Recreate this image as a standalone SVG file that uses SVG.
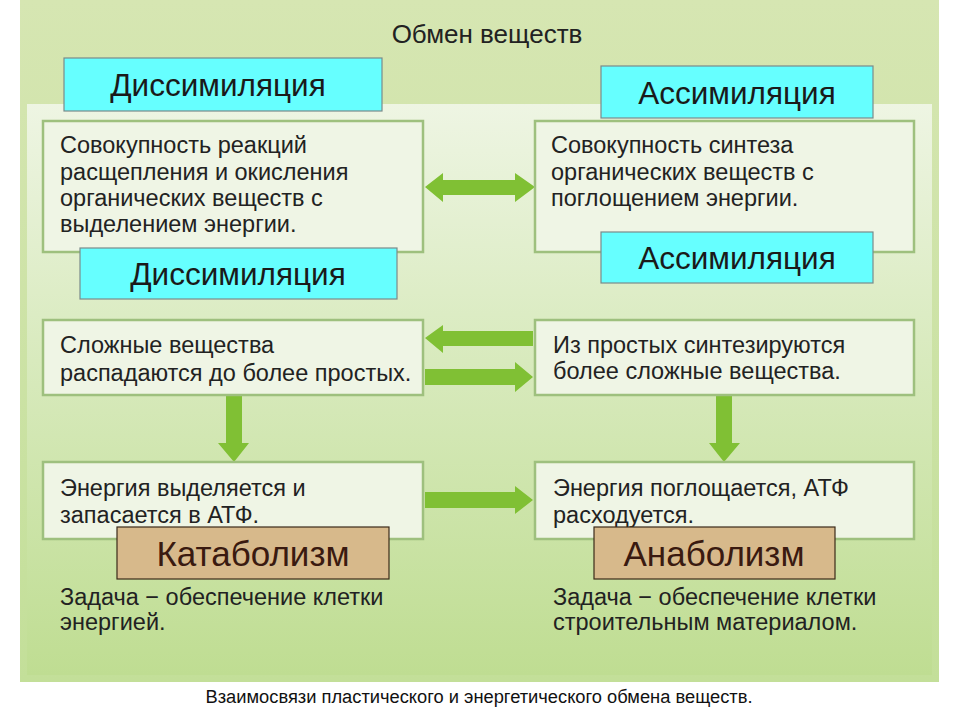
<svg xmlns="http://www.w3.org/2000/svg" width="960" height="720" viewBox="0 0 960 720">
<defs>
<linearGradient id="outerG" x1="0" y1="0" x2="0" y2="1">
<stop offset="0" stop-color="#d6e6b2"/>
<stop offset="1" stop-color="#c3df99"/>
</linearGradient>
<linearGradient id="innerG" x1="0" y1="0" x2="0" y2="1">
<stop offset="0" stop-color="#eef5e3"/>
<stop offset="0.45" stop-color="#d8eabd"/>
<stop offset="1" stop-color="#bfdd92"/>
</linearGradient>
<style>
.box{fill:#eff5e5;stroke:#9ec07e;stroke-width:2.5}
.lbl{fill:#66ffff;stroke:#7a8a8a;stroke-width:1.2}
.brn{fill:#d7b98b;stroke:#3b2a1a;stroke-width:1.2}
.t{font-family:"Liberation Sans",Arial,sans-serif;font-size:23.5px;fill:#222}
.h{font-family:"Liberation Sans",Arial,sans-serif;font-size:31.5px;fill:#1a1a1a;text-anchor:middle}
.hb{font-family:"Liberation Sans",Arial,sans-serif;font-size:35px;fill:#3a1a10;text-anchor:middle}
.ar{fill:#80c034}
</style>
</defs>
<rect x="0" y="0" width="960" height="720" fill="#ffffff"/>
<rect x="20" y="0" width="919" height="682" fill="url(#outerG)"/>
<rect x="27" y="104" width="905" height="571" fill="url(#innerG)"/>
<text x="487" y="43" text-anchor="middle" font-family="Liberation Sans, Arial, sans-serif" font-size="26" fill="#222">Обмен веществ</text>

<g id="connectors">
<polygon class="ar" points="425,187 443,173 443,180 515,180 515,173 535,187 515,202 515,195 443,195 443,202"/>
<polygon class="ar" points="425,338 443,325 443,331 533,331 533,346 443,346 443,353"/>
<polygon class="ar" points="425,369 515,369 515,362 533,377 515,392 515,385 425,385"/>
<polygon class="ar" points="226,395 242,395 242,443 249,443 234,462 218,443 226,443"/>
<polygon class="ar" points="716,395 732,395 732,443 740,443 724,462 709,443 716,443"/>
<polygon class="ar" points="425,492 515,492 515,486 533,500 515,514 515,508 425,508"/>
</g>

<g id="box1L"><rect class="box" x="43" y="121" width="380" height="131"/>
<text class="t" x="60" y="153">Совокупность реакций</text>
<text class="t" x="60" y="180">расщепления и окисления</text>
<text class="t" x="60" y="206">органических веществ с</text>
<text class="t" x="60" y="232">выделением энергии.</text></g>
<g id="box1R"><rect class="box" x="535" y="121" width="379" height="131"/>
<text class="t" x="551" y="153">Совокупность синтеза</text>
<text class="t" x="551" y="180">органических веществ с</text>
<text class="t" x="551" y="206">поглощением энергии.</text></g>
<g id="dis1"><rect class="lbl" x="64" y="58" width="318" height="53"/>
<text class="h" x="218" y="96">Диссимиляция</text></g>
<g id="as1"><rect class="lbl" x="601" y="66" width="272" height="52"/>
<text class="h" x="737" y="104">Ассимиляция</text></g>
<g id="dis2"><rect class="lbl" x="80" y="248" width="317" height="51"/>
<text class="h" x="238" y="285">Диссимиляция</text></g>
<g id="as2"><rect class="lbl" x="601" y="232" width="272" height="51"/>
<text class="h" x="737" y="269">Ассимиляция</text></g>

<g id="box2L"><rect class="box" x="43" y="320" width="380" height="75"/>
<text class="t" x="60" y="353">Сложные вещества</text>
<text class="t" x="60" y="381">распадаются до более простых.</text></g>
<g id="box2R"><rect class="box" x="535" y="320" width="379" height="75"/>
<text class="t" x="553" y="353">Из простых синтезируются</text>
<text class="t" x="553" y="379">более сложные вещества.</text></g>

<g id="box3L"><rect class="box" x="43" y="462" width="380" height="77"/>
<text class="t" x="60" y="496">Энергия выделяется и</text>
<text class="t" x="60" y="523">запасается в АТФ.</text></g>
<g id="box3R"><rect class="box" x="535" y="462" width="379" height="77"/>
<text class="t" x="553" y="496">Энергия поглощается, АТФ</text>
<text class="t" x="553" y="523">расходуется.</text></g>

<g id="kat"><rect class="brn" x="117" y="527" width="272" height="52"/>
<text class="hb" x="253" y="566">Катаболизм</text></g>
<g id="ana"><rect class="brn" x="594" y="527" width="241" height="52"/>
<text class="hb" x="714" y="566">Анаболизм</text></g>

<g id="taskL"><text class="t" x="60" y="605">Задача − обеспечение клетки</text>
<text class="t" x="60" y="630">энергией.</text></g>
<g id="taskR"><text class="t" x="553" y="605">Задача − обеспечение клетки</text>
<text class="t" x="553" y="630">строительным материалом.</text></g>

<text x="479" y="703" text-anchor="middle" font-family="Liberation Sans, Arial, sans-serif" font-size="18" fill="#111" textLength="547" lengthAdjust="spacingAndGlyphs">Взаимосвязи пластического и энергетического обмена веществ.</text>
</svg>
